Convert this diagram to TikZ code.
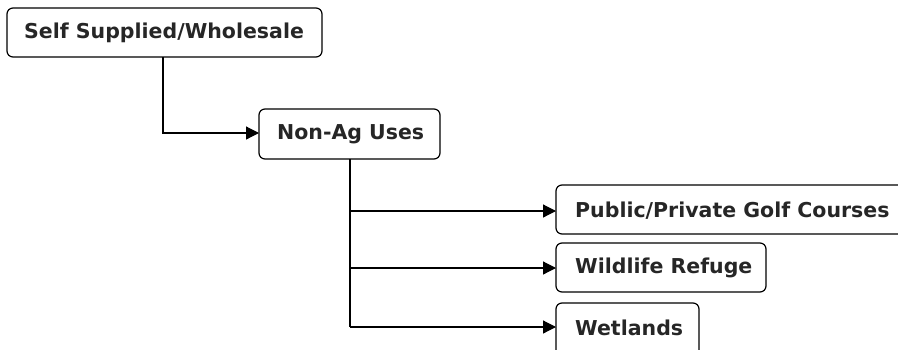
\documentclass[tikz,border=0pt]{standalone}
\usepackage{fontspec}
\setmainfont{DejaVu Sans}
\usetikzlibrary{arrows.meta}
\begin{document}
\begin{tikzpicture}[x=1pt,y=-1pt,
  box/.style={draw, line width=1.2pt, rounded corners=6pt},
  lbl/.style={anchor=west, inner sep=0pt, font=\bfseries\fontsize{20.5}{24}\selectfont, text=black!85},
  conn/.style={line width=1.2pt, -{Triangle[length=13pt,width=13pt]}}]
\useasboundingbox (0,0) rectangle (898,349);
\clip (0,0) rectangle (898,349);
\draw[box] (7,8) rectangle (322,57);
\node[lbl] (t1) at (24,33) {Self Supplied/Wholesale};
\coordinate (b1s) at (163,57);
\draw[box] (259,109) rectangle (440,159);
\node[lbl] (t2) at (277,134) {Non-Ag Uses};
\coordinate (n2w) at (259,133);
\coordinate (n2s) at (350,159);
\draw[box] (556,185) rectangle (915,234);
\node[lbl] (t3) at (575,211) {Public/Private Golf Courses};
\draw[box] (556,243) rectangle (766,292);
\node[lbl] (t4) at (575,268) {Wildlife Refuge};
\draw[box] (556,303) rectangle (699,360);
\node[lbl] (t5) at (575,328) {Wetlands};
\coordinate (g) at (556,211);
\coordinate (w) at (556,268);
\coordinate (we) at (556,327);
\draw[conn] (b1s) |- (n2w);
\draw[line width=1.2pt] (n2s) -- (350,327);
\draw[conn] (350,211) -- (g);
\draw[conn] (350,268) -- (w);
\draw[conn] (350,327) -- (we);
\end{tikzpicture}
\end{document}
